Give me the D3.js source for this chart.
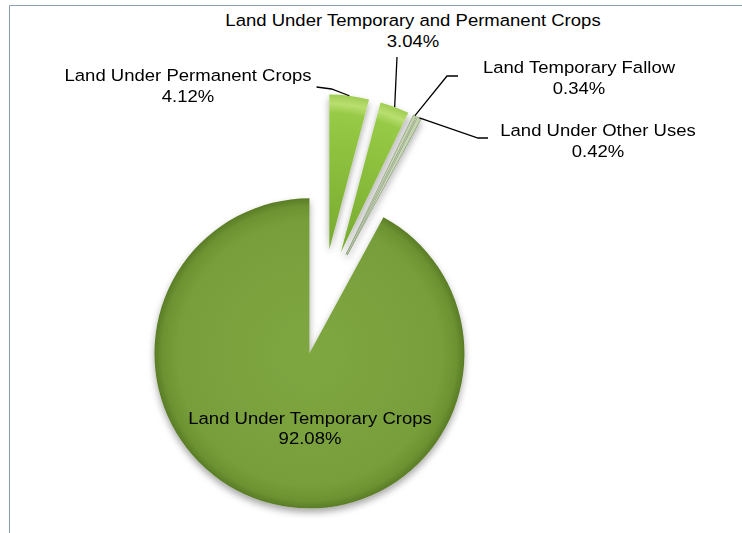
<!DOCTYPE html>
<html>
<head>
<meta charset="utf-8">
<script src="https://cdn.jsdelivr.net/npm/d3@7"></script>
<style>
  html, body { margin: 0; padding: 0; background: #ffffff; }
  svg { display: block; }
  text { font-family: "Liberation Sans", Arial, sans-serif; fill: #000; }
</style>
</head>
<body>
<div id="chart"></div>
<script>
// ---- data ----
const categories = [
  "Land Under Permanent Crops",
  "Land Under Temporary and Permanent Crops",
  "Land Temporary Fallow",
  "Land Under Other Uses",
  "Land Under Temporary Crops"
];
const values = [4.12, 3.04, 0.34, 0.42, 92.08];
const valueLabels = ["4.12%", "3.04%", "0.34%", "0.42%", "92.08%"];

// ---- layout ----
const W = 742, H = 533;
const cx = 322.5, cy = 302, R = 155, explode = 53;
const fontSize = 17, stretch = 1.09, lineGap = 21;
const labelLayout = [
  { x: 188, y: 81,  leader: [[331.5, 89], [316.5, 87]] },
  { x: 413, y: 26,  leader: [[397, 57]] },
  { x: 579, y: 73,  leader: [[447, 76], [458, 76]] },
  { x: 598, y: 136, leader: [[478, 138], [488, 138]] },
  { x: 310, y: 423.5, leader: null }
];
const sliceStyle = ["bright", "bright", "pale", "pale", "olive"];

const svg = d3.select("#chart").append("svg")
  .attr("width", W).attr("height", H);

const defs = svg.append("defs");
const g1 = defs.append("radialGradient").attr("id", "olive")
  .attr("gradientUnits", "userSpaceOnUse").attr("cx", 0).attr("cy", 0).attr("r", R);
[[0, "#7fa741"], [0.85, "#779e3a"], [0.95, "#6c9231"], [1, "#5a7c27"]].forEach(s =>
  g1.append("stop").attr("offset", s[0]).attr("stop-color", s[1]));
const g2 = defs.append("radialGradient").attr("id", "bright")
  .attr("gradientUnits", "userSpaceOnUse").attr("cx", 0).attr("cy", 0).attr("r", R);
[[0, "#78aa30"], [0.6, "#8cc03d"], [0.88, "#97ca46"], [0.94, "#b9df70"], [1, "#9fcd52"]].forEach(s =>
  g2.append("stop").attr("offset", s[0]).attr("stop-color", s[1]));
const g3 = defs.append("radialGradient").attr("id", "pale")
  .attr("gradientUnits", "userSpaceOnUse").attr("cx", 0).attr("cy", 0).attr("r", R);
[[0, "#d6dfcc"], [1, "#c3d3ad"]].forEach(s =>
  g3.append("stop").attr("offset", s[0]).attr("stop-color", s[1]));

const shadow = defs.append("filter").attr("id", "shadow")
  .attr("x", "-20%").attr("y", "-20%").attr("width", "140%").attr("height", "140%");
shadow.append("feDropShadow").attr("dx", 0).attr("dy", 4).attr("stdDeviation", 3.5)
  .attr("flood-color", "#000").attr("flood-opacity", 0.35);

// frame
svg.append("path")
  .attr("d", d3.line()([[9.5, H], [9.5, 5.5], [W, 5.5]]))
  .attr("fill", "none").attr("stroke", "#8b9fb8").attr("stroke-width", 1);

const pie = d3.pie().sort(null).value(d => d).startAngle(0).endAngle(2 * Math.PI);
const arcs = pie(values);
const arc = d3.arc().innerRadius(0).outerRadius(R);

const offset = d => {
  const m = (d.startAngle + d.endAngle) / 2;
  return [cx + explode * Math.sin(m), cy - explode * Math.cos(m)];
};

const slices = svg.append("g").attr("filter", "url(#shadow)");
slices.selectAll("g.slice").data(arcs).join("g")
  .attr("class", "slice")
  .attr("transform", d => { const o = offset(d); return `translate(${o[0]},${o[1]})`; })
  .append("path")
  .attr("d", arc)
  .attr("fill", (d, i) => `url(#${sliceStyle[i]})`)
  .attr("stroke", (d, i) => sliceStyle[i] === "pale" ? "#8d9f78" : "none")
  .attr("stroke-width", 0.8);

// leader lines
arcs.forEach((d, i) => {
  const L = labelLayout[i];
  if (!L.leader) return;
  const o = offset(d);
  const m = (d.startAngle + d.endAngle) / 2;
  const start = [o[0] + R * Math.sin(m), o[1] - R * Math.cos(m)];
  svg.append("path")
    .attr("d", d3.line()([start, ...L.leader]))
    .attr("fill", "none").attr("stroke", "#000").attr("stroke-width", 1.3);
});

// labels
arcs.forEach((d, i) => {
  const L = labelLayout[i];
  const g = svg.append("g")
    .attr("transform", `translate(${L.x},${L.y}) scale(${stretch},1)`);
  [categories[i], valueLabels[i]].forEach((t, k) => {
    g.append("text")
      .attr("x", 0).attr("y", k * lineGap)
      .attr("text-anchor", "middle")
      .attr("font-size", fontSize)
      .text(t);
  });
});
</script>
</body>
</html>
